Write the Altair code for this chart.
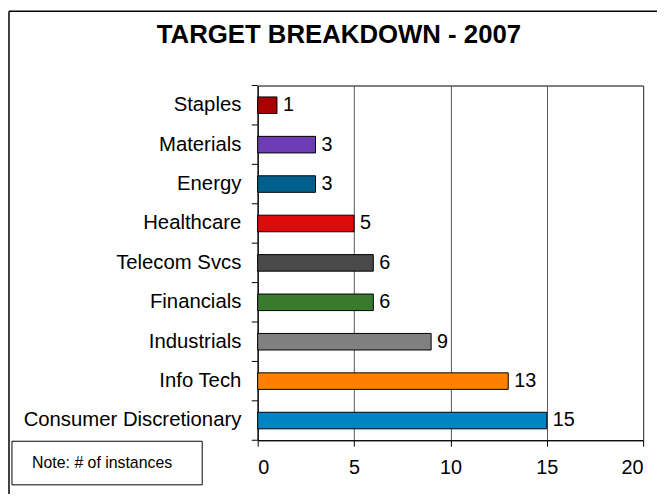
import altair as alt
import pandas as pd

title_text = "TARGET BREAKDOWN - 2007"
note_text = "Note: # of instances"
categories = ["Staples", "Materials", "Energy", "Healthcare", "Telecom Svcs",
              "Financials", "Industrials", "Info Tech", "Consumer Discretionary"]
values = [1, 3, 3, 5, 6, 6, 9, 13, 15]
colors = ["#A80000", "#6E3CB4", "#005F8C", "#DD0B0B", "#4A4A4A",
          "#3A7A2E", "#808080", "#FF8000", "#0084C2"]
x_ticks = [0, 5, 10, 15, 20]

df = pd.DataFrame({"cat": categories, "val": values})
W, H = 389, 358
FONT = "Liberation Sans"

def y_enc(**kw):
    return alt.Y("cat:N", sort=categories,
                 scale=alt.Scale(paddingInner=0, paddingOuter=0),
                 axis=alt.Axis(title=None, ticks=False, domainColor="black",
                               labelFont=FONT, labelFontSize=20.5, labelColor="black",
                               labelPadding=17, labelLimit=400), **kw)

x_enc = alt.X("val:Q", scale=alt.Scale(domain=[0, 20], nice=False),
              axis=alt.Axis(title=None, values=x_ticks, grid=True, gridColor="#555555",
                            gridOpacity=1, tickColor="black", tickSize=6,
                            domainColor="black", labelFont=FONT, labelFontSize=20,
                            labelColor="black", labelPadding=12))

base = alt.Chart(df)
bars = base.mark_bar(height=alt.RelativeBandSize(0.42), stroke="black", strokeWidth=1).encode(
    x=x_enc, y=y_enc(),
    color=alt.Color("cat:N", sort=categories,
                    scale=alt.Scale(domain=categories, range=colors), legend=None))
labels = base.mark_text(align="left", baseline="middle", dx=6, font=FONT,
                        fontSize=20, color="black").encode(
    x=alt.X("val:Q"), y=y_enc(), text="val:Q")
cat_ticks = base.mark_rule(color="black").encode(
    y=y_enc(bandPosition=0), x=alt.value(-6), x2=alt.value(0))

one = pd.DataFrame({"t": [title_text]})
bottom_tick = alt.Chart(one).mark_rule(color="black").encode(
    x=alt.value(-6), x2=alt.value(0), y=alt.value(H))
title = alt.Chart(one).mark_text(font=FONT, fontSize=26, fontWeight="bold",
                                 color="black", align="center", baseline="alphabetic").encode(
    text="t:N", x=alt.value(82), y=alt.value(-43))
frame_left = alt.Chart(one).mark_rule(color="black", strokeWidth=1.5).encode(
    x=alt.value(-251), y=alt.value(-75), y2=alt.value(420))
frame_top = alt.Chart(one).mark_rule(color="black", strokeWidth=1.5).encode(
    x=alt.value(-251), x2=alt.value(420), y=alt.value(-75))

note_df = pd.DataFrame({"t": [note_text]})
note_box = alt.Chart(note_df).mark_rect(fill="white", stroke="black", strokeWidth=1).encode(
    x=alt.value(-248), x2=alt.value(-56), y=alt.value(359), y2=alt.value(403))
note = alt.Chart(note_df).mark_text(font=FONT, fontSize=16, color="black",
                                    align="center", baseline="middle").encode(
    text="t:N", x=alt.value(-157), y=alt.value(381))

chart = alt.layer(bars, labels, cat_ticks, bottom_tick, title, frame_left, frame_top,
                  note_box, note).properties(
    width=W, height=H,
    autosize=alt.AutoSizeParams(type="none"),
    padding={"left": 252, "top": 76, "right": 14, "bottom": 52},
    background="white",
).configure_view(stroke="black", strokeWidth=1)

chart.save("out.html", embed_options={"renderer": "svg", "actions": False})
